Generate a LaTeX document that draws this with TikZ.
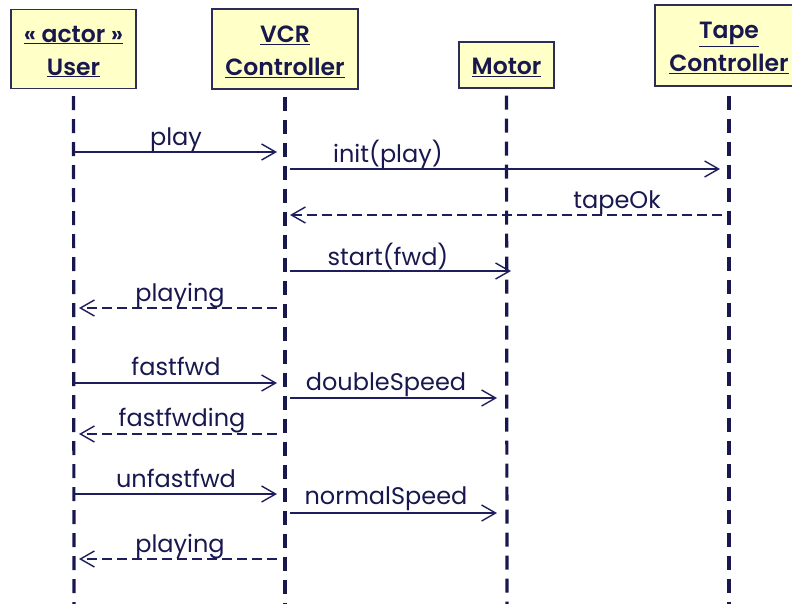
\documentclass[tikz,border=0pt]{standalone}
\usepackage{fontspec}
\setmainfont{Poppins}
\newfontfamily\headfont{Poppins SemiBold}
\usetikzlibrary{arrows.meta}
\definecolor{ink}{HTML}{18184F}
\definecolor{wire}{HTML}{1E1E5E}
\definecolor{boxfill}{HTML}{FFFFC8}
\definecolor{boxline}{HTML}{2C2C58}
\tikzset{
  objbox/.style={draw=boxline, line width=1.4pt, fill=boxfill, inner sep=0pt},
  objname/.style={inner sep=0pt, align=center, text=ink,
    font=\fontsize{23.5}{33}\selectfont\headfont},
  lifeline/.style={draw=ink, line width=3.2pt, dash pattern=on 14pt off 9pt},
  call/.style={draw=wire, line width=1.4pt, -{Straight Barb[length=14pt,width=16pt,line width=1.4pt]}},
  reply/.style={call, dash pattern=on 10pt off 5pt},
  msglabel/.style={anchor=base, inner sep=0pt, text=ink, font=\fontsize{24}{28}\selectfont}
}
\begin{document}
\begin{tikzpicture}[x=1pt,y=-1pt]
\useasboundingbox (0,0) rectangle (792,604);

% object boxes
\node[objbox, minimum width=125pt, minimum height=79pt] (user) at (73.5,49) {};
\node[objbox, minimum width=146pt, minimum height=80pt] (vcr) at (285,49) {};
\node[objbox, minimum width=95pt, minimum height=46pt] (motor) at (506.5,65) {};
\node[objbox, minimum width=148pt, minimum height=81pt] (tape) at (729,45.5) {};

% object names
\node[objname] (usern) at ([yshift=-2.5pt]user.center) {\underline{« actor »}\\\underline{User}};
\node[objname] (vcrn) at ([yshift=-2.5pt]vcr.center) {\underline{VCR}\\\underline{Controller}};
\node[objname] (motorn) at ([yshift=-2pt]motor.center) {\underline{Motor}};
\node[objname] (tapen) at ([yshift=-2.5pt]tape.center) {\underline{Tape}\\\underline{Controller}};

% lifelines
\coordinate (uend) at (74,604);
\coordinate (vend) at (285,604);
\coordinate (mend) at (507,604);
\coordinate (tend) at (729,604);
\draw[lifeline] ([yshift=-7pt]user.south) -- (uend);
\draw[lifeline] ([yshift=-7pt]vcr.south) -- (vend);
\draw[lifeline] ([yshift=-7pt]motor.south) -- (mend);
\draw[lifeline] ([yshift=-9pt]tape.south) -- (tend);

% message end points
\coordinate (m1a) at (74,152);  \coordinate (m1b) at (277,152);
\coordinate (m2a) at (290,169); \coordinate (m2b) at (720,169);
\coordinate (m3a) at (722,215); \coordinate (m3b) at (290,215);
\coordinate (m4a) at (290,271); \coordinate (m4b) at (511,271);
\coordinate (m5a) at (277,308); \coordinate (m5b) at (79,308);
\coordinate (m6a) at (74,383);  \coordinate (m6b) at (277,383);
\coordinate (m7a) at (290,398); \coordinate (m7b) at (497,398);
\coordinate (m8a) at (277,434); \coordinate (m8b) at (79,434);
\coordinate (m9a) at (74,494);  \coordinate (m9b) at (277,494);
\coordinate (m10a) at (290,513); \coordinate (m10b) at (497,513);
\coordinate (m11a) at (277,559); \coordinate (m11b) at (79,559);

% messages
\draw[call]  (m1a) -- (m1b);
\draw[call]  (m2a) -- (m2b);
\draw[reply] (m3a) -- (m3b);
\draw[call]  (m4a) -- (m4b);
\draw[reply] (m5a) -- (m5b);
\draw[call]  (m6a) -- (m6b);
\draw[call]  (m7a) -- (m7b);
\draw[reply] (m8a) -- (m8b);
\draw[call]  (m9a) -- (m9b);
\draw[call]  (m10a) -- (m10b);
\draw[reply] (m11a) -- (m11b);

% message labels
\node[msglabel] (l1) at (176,146) {play};
\node[msglabel] (l2) at (388,163) {init(play)};
\node[msglabel] (l3) at (617,208) {tapeOk};
\node[msglabel] (l4) at (388,265) {start(fwd)};
\node[msglabel] (l5) at (180,301) {playing};
\node[msglabel] (l6) at (176,375) {fastfwd};
\node[msglabel] (l7) at (386,390) {doubleSpeed};
\node[msglabel] (l8) at (182,426) {fastfwding};
\node[msglabel] (l9) at (176,487) {unfastfwd};
\node[msglabel] (l10) at (386,504) {normalSpeed};
\node[msglabel] (l11) at (180,552) {playing};
\end{tikzpicture}
\end{document}
